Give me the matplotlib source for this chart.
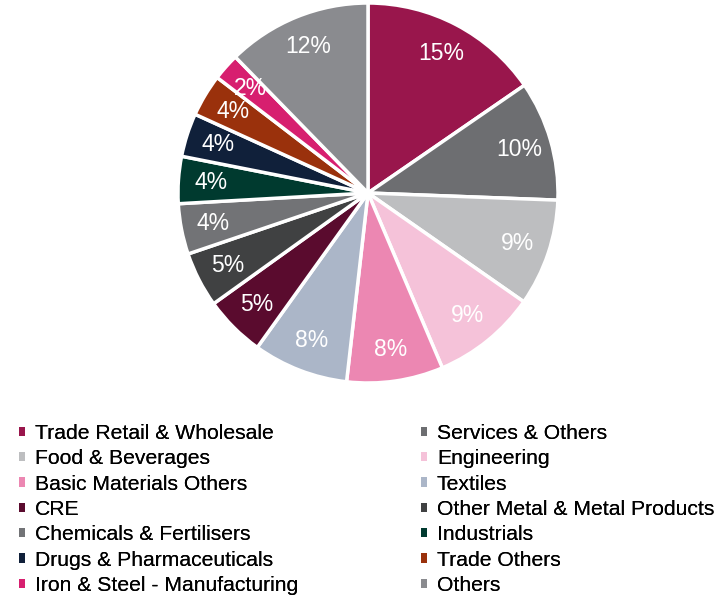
import matplotlib.pyplot as plt
from matplotlib.patches import Patch

plt.rcParams['font.family'] = ['Liberation Sans', 'DejaVu Sans']

# sector shares of the book, in percent
sectors = [
    'Trade Retail & Wholesale', 'Services & Others', 'Food & Beverages',
    'Engineering', 'Basic Materials Others', 'Textiles', 'CRE',
    'Other Metal & Metal Products', 'Chemicals & Fertilisers', 'Industrials',
    'Drugs & Pharmaceuticals', 'Trade Others', 'Iron & Steel - Manufacturing',
    'Others',
]
shares = [15.4, 10.2, 9.1, 8.9, 8.2, 8.1, 5.2, 4.7, 4.3, 4.0, 3.7, 3.6, 2.3, 12.3]
colours = [
    '#99164c', '#6d6e71', '#bdbec0', '#f5c2d9', '#ec87b2', '#abb6c8',
    '#5a0b2e', '#404142', '#727376', '#003a2f', '#10203a', '#9a310c',
    '#d71f6f', '#8a8b8f',
]

fig = plt.figure(figsize=(7.2, 5.97), dpi=100)

# pie centred at (368, 193) px with a 190 px radius
r = 1.02
size = 190 * 2 * r
ax = fig.add_axes([(368 - size / 2) / 720, (597 - 193 - size / 2) / 597,
                   size / 720, size / 597])
wedges, _, pcts = ax.pie(shares, colors=colours, startangle=90, counterclock=False,
                         autopct='%.0f%%', pctdistance=0.83,
                         wedgeprops=dict(edgecolor='white', linewidth=2.5),
                         textprops=dict(color='white', fontsize=16.5))
ax.set_xlim(-r, r)
ax.set_ylim(-r, r)

# legend reads across the rows: left column takes the even entries, right the odd
handles = [Patch(facecolor=c, edgecolor='none') for c in colours]
leg_kw = dict(loc='upper left', frameon=False, fontsize=15.2, handlelength=0.3,
              handleheight=0.3, handletextpad=0.45, labelspacing=0.3,
              borderaxespad=0, borderpad=0)
for start, x0 in [(0, 19), (1, 421)]:
    idx = range(start, len(sectors), 2)
    leg = fig.legend([handles[i] for i in idx], [sectors[i] for i in idx],
                     bbox_to_anchor=(x0 / 720, 1 - 424 / 597), **leg_kw)
    fig.add_artist(leg)

fig.savefig('out.png', dpi=100)
